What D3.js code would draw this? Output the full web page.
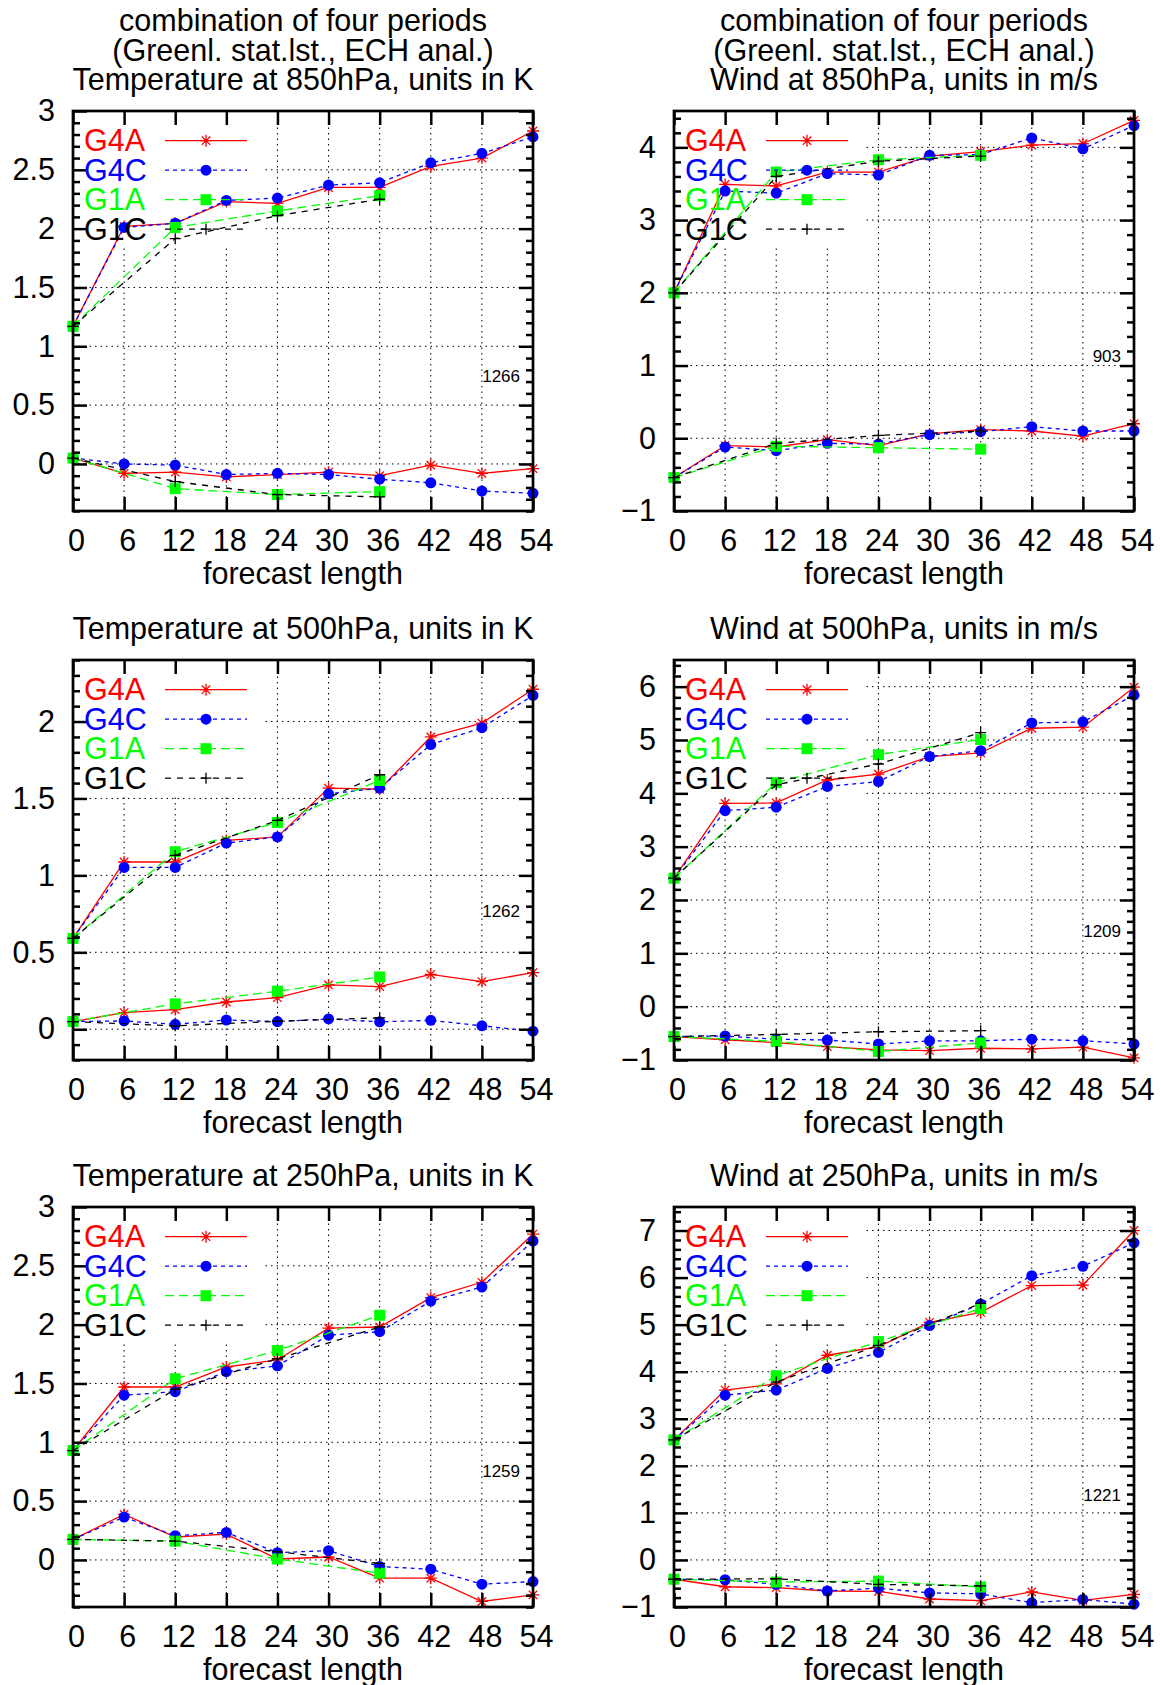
<!DOCTYPE html>
<html>
<head>
<meta charset="utf-8">
<script src="https://cdn.jsdelivr.net/npm/d3@7"></script>
<style>
  body { margin: 0; background: #fff; }
  svg text { font-family: "Liberation Sans", Arial, sans-serif; }
</style>
</head>
<body>
<svg id="chart" width="1162" height="1685"></svg>
<script>
'use strict';

// forecast hours
const hours = [0, 6, 12, 18, 24, 30, 36, 42, 48, 54];
const hoursG1 = [0, 12, 24, 36];
const seriesNames = ['G4A', 'G4C', 'G1A', 'G1C'];

const headerLines = ['combination of four periods', '(Greenl. stat.lst., ECH anal.)'];
const panelTitles = [
  'Temperature at 850hPa, units in K',
  'Wind at 850hPa, units in m/s',
  'Temperature at 500hPa, units in K',
  'Wind at 500hPa, units in m/s',
  'Temperature at 250hPa, units in K',
  'Wind at 250hPa, units in m/s'
];
const yDomains = [[-0.4, 3], [-1, 4.5], [-0.2, 2.4], [-1, 6.5], [-0.4, 3], [-1, 7.5]];
const yMajorStep = [0.5, 1, 0.5, 1, 0.5, 1];
const yMinorStep = [0.1, 0.2, 0.1, 0.2, 0.1, 0.2];
const caseCounts = [1266, 903, 1262, 1209, 1259, 1221];
const caseCountY = [0.75, 1.13, 0.77, 1.42, 0.76, 1.38];

// upper curves (rms) and lower curves (bias), order G4A, G4C, G1A, G1C
const t850Rms = [
  [1.17, 2.02, 2.045, 2.23, 2.215, 2.35, 2.35, 2.53, 2.60, 2.83],
  [1.17, 2.01, 2.045, 2.24, 2.26, 2.37, 2.39, 2.56, 2.64, 2.78],
  [1.17, 2.01, 2.15, 2.28],
  [1.17, 1.915, 2.11, 2.25]
];
const t850Bias = [
  [0.05, -0.08, -0.07, -0.11, -0.09, -0.07, -0.10, -0.01, -0.08, -0.04],
  [0.05, 0.0, -0.01, -0.09, -0.08, -0.09, -0.13, -0.16, -0.23, -0.25],
  [0.05, -0.21, -0.26, -0.235],
  [0.05, -0.15, -0.26, -0.28]
];
const w850Rms = [
  [2.0, 3.49, 3.47, 3.66, 3.66, 3.88, 3.94, 4.03, 4.05, 4.37],
  [2.0, 3.40, 3.37, 3.64, 3.62, 3.89, 3.90, 4.13, 3.98, 4.30],
  [2.0, 3.66, 3.83, 3.89],
  [2.0, 3.60, 3.81, 3.88]
];
const w850Bias = [
  [-0.54, -0.10, -0.12, -0.02, -0.10, 0.06, 0.12, 0.10, 0.03, 0.20],
  [-0.54, -0.12, -0.17, -0.07, -0.08, 0.05, 0.09, 0.16, 0.10, 0.10],
  [-0.54, -0.11, -0.13, -0.15],
  [-0.54, -0.07, 0.04, 0.10]
];
const t500Rms = [
  [0.59, 1.087, 1.087, 1.227, 1.25, 1.567, 1.56, 1.90, 1.99, 2.21],
  [0.59, 1.052, 1.052, 1.21, 1.25, 1.53, 1.567, 1.85, 1.96, 2.17],
  [0.59, 1.154, 1.344, 1.617],
  [0.59, 1.13, 1.357, 1.654]
];
const t500Bias = [
  [0.05, 0.108, 0.128, 0.177, 0.205, 0.288, 0.277, 0.357, 0.31, 0.368],
  [0.05, 0.054, 0.032, 0.06, 0.05, 0.067, 0.048, 0.058, 0.022, -0.013],
  [0.05, 0.165, 0.247, 0.34],
  [0.05, 0.022, 0.052, 0.074]
];
const w500Rms = [
  [2.41, 3.81, 3.82, 4.25, 4.36, 4.69, 4.76, 5.22, 5.24, 5.99],
  [2.41, 3.675, 3.74, 4.13, 4.22, 4.69, 4.80, 5.32, 5.34, 5.84],
  [2.41, 4.20, 4.725, 5.01],
  [2.41, 4.16, 4.55, 5.14]
];
const w500Bias = [
  [-0.56, -0.62, -0.675, -0.75, -0.81, -0.825, -0.78, -0.79, -0.76, -0.96],
  [-0.56, -0.55, -0.61, -0.625, -0.70, -0.64, -0.64, -0.61, -0.64, -0.70],
  [-0.56, -0.65, -0.84, -0.68],
  [-0.56, -0.52, -0.47, -0.45]
];
const t250Rms = [
  [0.93, 1.47, 1.47, 1.64, 1.70, 1.97, 1.98, 2.23, 2.36, 2.77],
  [0.93, 1.40, 1.43, 1.60, 1.65, 1.91, 1.94, 2.20, 2.32, 2.71],
  [0.93, 1.54, 1.78, 2.08],
  [0.93, 1.45, 1.71, 1.98]
];
const t250Bias = [
  [0.175, 0.387, 0.195, 0.22, 0.008, 0.025, -0.155, -0.155, -0.353, -0.297],
  [0.175, 0.364, 0.206, 0.234, 0.062, 0.079, -0.056, -0.079, -0.206, -0.184],
  [0.175, 0.16, 0.008, -0.113],
  [0.175, 0.16, 0.07, -0.03]
];
const w250Rms = [
  [2.55, 3.61, 3.74, 4.35, 4.53, 5.05, 5.26, 5.83, 5.84, 7.0],
  [2.55, 3.50, 3.61, 4.07, 4.41, 4.98, 5.44, 6.04, 6.24, 6.74],
  [2.55, 3.915, 4.64, 5.34],
  [2.55, 3.78, 4.56, 5.45]
];
const w250Bias = [
  [-0.41, -0.57, -0.59, -0.66, -0.67, -0.83, -0.865, -0.68, -0.86, -0.73],
  [-0.41, -0.42, -0.52, -0.66, -0.60, -0.70, -0.72, -0.91, -0.84, -0.94],
  [-0.41, -0.47, -0.45, -0.575],
  [-0.41, -0.40, -0.52, -0.55]
];

const panelRms = [t850Rms, w850Rms, t500Rms, w500Rms, t250Rms, w250Rms];
const panelBias = [t850Bias, w850Bias, t500Bias, w500Bias, t250Bias, w250Bias];

// styles
const styles = {
  G4A: { color: '#ff0000', dash: null, marker: 'star' },
  G4C: { color: '#0000ff', dash: '4,4', marker: 'circle' },
  G1A: { color: '#00ff00', dash: '9,5', marker: 'square' },
  G1C: { color: '#000000', dash: '6,6', marker: 'plus' }
};

const svg = d3.select('#chart');
const frameW = 460;
const frameH = 400;
const colLeft = [73, 674];
const rowTop = [111, 660, 1207];
const fontSize = 30.5;

const round = v => Math.round(v * 1000) / 1000;
const fmt = d3.format('~g');

function steps(domain, step) {
  const out = [];
  const start = Math.ceil(domain[0] / step - 1e-9);
  const end = Math.floor(domain[1] / step + 1e-9);
  for (let k = start; k <= end; k++) out.push(round(k * step));
  return out;
}

function drawMarker(sel, kind, color) {
  if (kind === 'circle') {
    sel.append('circle').attr('r', 5.5).attr('fill', color);
  } else if (kind === 'square') {
    sel.append('rect').attr('x', -5.5).attr('y', -5.5).attr('width', 11).attr('height', 11).attr('fill', color);
  } else if (kind === 'star') {
    sel.append('path')
      .attr('d', 'M-6,0H6M0,-6V6M-4.2,-4.2L4.2,4.2M-4.2,4.2L4.2,-4.2')
      .attr('stroke', color).attr('stroke-width', 1.3).attr('fill', 'none');
  } else {
    sel.append('path')
      .attr('d', 'M-5.5,0H5.5M0,-5.5V5.5')
      .attr('stroke', color).attr('stroke-width', 1.3).attr('fill', 'none');
  }
}

panelTitles.forEach((title, i) => {
  const left = colLeft[i % 2];
  const top = rowTop[Math.floor(i / 2)];
  const domain = yDomains[i];
  const g = svg.append('g').attr('transform', `translate(${left},${top})`);

  const x = d3.scaleLinear().domain([0, 54]).range([0, frameW]);
  const y = d3.scaleLinear().domain(domain).range([frameH, 0]);

  const majors = steps(domain, yMajorStep[i]);
  const minors = steps(domain, yMinorStep[i]).filter(v => !majors.some(m => Math.abs(m - v) < 1e-6));

  // grid
  const grid = g.append('g').attr('stroke', '#000').attr('stroke-width', 1).attr('stroke-dasharray', '1.5,4');
  grid.selectAll('line.h')
    .data(majors.filter(v => v > domain[0] && v < domain[1]))
    .enter().append('line')
      .attr('x1', 0).attr('x2', frameW)
      .attr('y1', d => y(d)).attr('y2', d => y(d));
  grid.selectAll('line.v')
    .data(hours.filter(h => h > 0 && h < 54))
    .enter().append('line')
      .attr('y1', 0).attr('y2', frameH)
      .attr('x1', d => x(d)).attr('x2', d => x(d));

  // opaque key area
  g.append('rect')
    .attr('x', 0).attr('y', 0).attr('width', 192).attr('height', 137)
    .attr('fill', '#fff');

  // data
  const line = d3.line().x(d => x(d[0])).y(d => y(d[1]));
  seriesNames.forEach((name, s) => {
    const st = styles[name];
    const xs = s < 2 ? hours : hoursG1;
    [panelRms[i][s], panelBias[i][s]].forEach(vals => {
      const pts = vals.map((v, k) => [xs[k], v]);
      g.append('path')
        .datum(pts)
        .attr('d', line)
        .attr('fill', 'none')
        .attr('stroke', st.color)
        .attr('stroke-width', 1.3)
        .attr('stroke-dasharray', st.dash);
      g.append('g').selectAll('g')
        .data(pts)
        .enter().append('g')
          .attr('transform', d => `translate(${x(d[0])},${y(d[1])})`)
          .each(function () { drawMarker(d3.select(this), st.marker, st.color); });
    });
  });

  // axes
  const styleAxis = sel => {
    sel.select('.domain').remove();
    sel.selectAll('line').attr('stroke', '#000').attr('stroke-width', 2.5);
    sel.attr('font-size', fontSize).attr('font-family', null);
    sel.selectAll('text').attr('fill', '#000');
  };
  g.append('g')
    .call(d3.axisLeft(y).tickValues(majors).tickSizeInner(-14).tickSizeOuter(0).tickPadding(18).tickFormat(fmt))
    .call(styleAxis);
  g.append('g')
    .call(d3.axisLeft(y).tickValues(minors).tickSizeInner(-7).tickSizeOuter(0).tickFormat(''))
    .call(styleAxis);
  g.append('g')
    .attr('transform', `translate(${frameW},0)`)
    .call(d3.axisRight(y).tickValues(majors).tickSizeInner(-14).tickSizeOuter(0).tickFormat(''))
    .call(styleAxis);
  g.append('g')
    .attr('transform', `translate(${frameW},0)`)
    .call(d3.axisRight(y).tickValues(minors).tickSizeInner(-7).tickSizeOuter(0).tickFormat(''))
    .call(styleAxis);
  g.append('g')
    .attr('transform', `translate(0,${frameH})`)
    .call(d3.axisBottom(x).tickValues(hours).tickSizeInner(-14).tickSizeOuter(0).tickPadding(18).tickFormat(fmt))
    .call(styleAxis)
    .selectAll('text').attr('x', 3);
  g.append('g')
    .call(d3.axisTop(x).tickValues(hours).tickSizeInner(-14).tickSizeOuter(0).tickFormat(''))
    .call(styleAxis);

  g.append('rect')
    .attr('width', frameW).attr('height', frameH)
    .attr('fill', 'none').attr('stroke', '#000').attr('stroke-width', 2.7);

  // key
  seriesNames.forEach((name, s) => {
    const st = styles[name];
    const cy = 29.7 + s * 29.5;
    g.append('text')
      .attr('x', 11).attr('y', cy + 10.5)
      .attr('font-size', fontSize)
      .attr('fill', st.color)
      .text(name);
    g.append('line')
      .attr('x1', 92).attr('x2', 174).attr('y1', cy).attr('y2', cy)
      .attr('stroke', st.color).attr('stroke-width', 1.3)
      .attr('stroke-dasharray', st.dash);
    drawMarker(g.append('g').attr('transform', `translate(133,${cy})`), st.marker, st.color);
  });

  // number of cases
  g.append('text')
    .attr('x', frameW - 13).attr('y', y(caseCountY[i]) + 6)
    .attr('text-anchor', 'end')
    .attr('font-size', 17)
    .text(caseCounts[i]);

  // titles
  const lines = i < 2 ? headerLines.concat([title]) : [title];
  lines.forEach((t, k) => {
    g.append('text')
      .attr('x', frameW / 2)
      .attr('y', -21 - (lines.length - 1 - k) * 29.5)
      .attr('text-anchor', 'middle')
      .attr('font-size', fontSize)
      .text(t);
  });

  g.append('text')
    .attr('x', frameW / 2)
    .attr('y', frameH + 73)
    .attr('text-anchor', 'middle')
    .attr('font-size', fontSize)
    .text('forecast length');
});
</script>
</body>
</html>
